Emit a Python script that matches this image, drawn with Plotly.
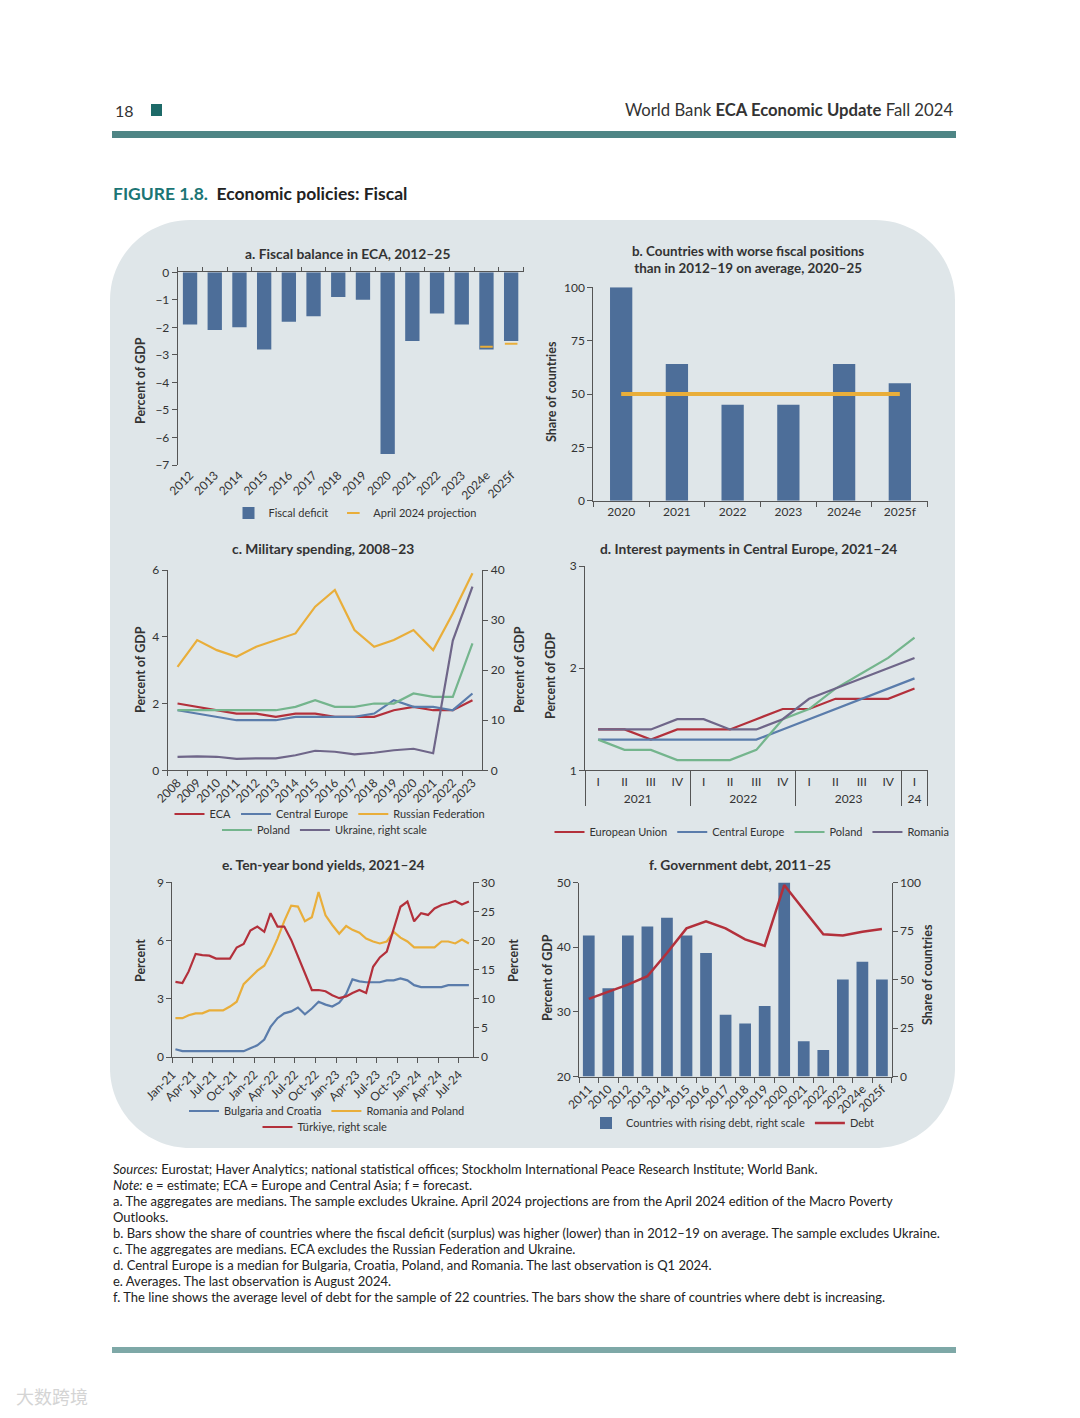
import plotly.graph_objects as go

W, H = 1080, 1418
OFF = 8  # page body margin of the browser


def X(px):
    return (px - OFF) / W


def Y(py):
    return 1 - (py - OFF) / H


# ---------------- data ----------------
# a. Fiscal balance in ECA
a_years = ["2012", "2013", "2014", "2015", "2016", "2017", "2018", "2019", "2020",
           "2021", "2022", "2023", "2024e", "2025f"]
a_deficit = [-1.9, -2.1, -2.0, -2.8, -1.8, -1.6, -0.9, -1.0, -6.6, -2.5, -1.5, -1.9, -2.8, -2.5]
a_proj_years = ["2024e", "2025f"]
a_proj = [-2.7, -2.6]

# b. Countries with worse fiscal positions
b_years = ["2020", "2021", "2022", "2023", "2024e", "2025f"]
b_share = [100, 64, 45, 45, 64, 55]
b_ref = [50, 50, 50, 50, 50, 50]

# c. Military spending
c_years = ["2008", "2009", "2010", "2011", "2012", "2013", "2014", "2015", "2016", "2017",
           "2018", "2019", "2020", "2021", "2022", "2023"]
c_eca = [2.0, 1.9, 1.8, 1.7, 1.7, 1.6, 1.7, 1.7, 1.6, 1.6, 1.6, 1.8, 1.9, 1.8, 1.8, 2.1]
c_ce = [1.8, 1.7, 1.6, 1.5, 1.5, 1.5, 1.6, 1.6, 1.6, 1.6, 1.7, 2.1, 1.9, 1.9, 1.8, 2.3]
c_rus = [3.1, 3.9, 3.6, 3.4, 3.7, 3.9, 4.1, 4.9, 5.4, 4.2, 3.7, 3.9, 4.2, 3.6, 4.7, 5.9]
c_pol = [1.8, 1.8, 1.8, 1.8, 1.8, 1.8, 1.9, 2.1, 1.9, 1.9, 2.0, 2.0, 2.3, 2.2, 2.2, 3.8]
c_ukr = [2.7, 2.8, 2.7, 2.3, 2.4, 2.4, 3.0, 3.9, 3.7, 3.2, 3.5, 4.0, 4.3, 3.4, 25.9, 36.7]

# d. Interest payments in Central Europe
d_years = ["2021", "2021", "2021", "2021", "2022", "2022", "2022", "2022",
           "2023", "2023", "2023", "2023", "24"]
d_quarters = ["I", "II", "III", "IV", "I", "II", "III", "IV", "I", "II", "III", "IV", "I"]
d_eu = [1.4, 1.4, 1.3, 1.4, 1.4, 1.4, 1.5, 1.6, 1.6, 1.7, 1.7, 1.7, 1.8]
d_ce = [1.3, 1.3, 1.3, 1.3, 1.3, 1.3, 1.3, 1.4, 1.5, 1.6, 1.7, 1.8, 1.9]
d_pol = [1.3, 1.2, 1.2, 1.1, 1.1, 1.1, 1.2, 1.5, 1.6, 1.8, 1.95, 2.1, 2.3]
d_rom = [1.4, 1.4, 1.4, 1.5, 1.5, 1.4, 1.4, 1.5, 1.7, 1.8, 1.9, 2.0, 2.1]

# e. Ten-year bond yields (monthly, Jan-21 .. Aug-24)
e_dates = ["2021-01-15", "2021-02-15", "2021-03-15", "2021-04-15", "2021-05-15", "2021-06-15",
           "2021-07-15", "2021-08-15", "2021-09-15", "2021-10-15", "2021-11-15", "2021-12-15",
           "2022-01-15", "2022-02-15", "2022-03-15", "2022-04-15", "2022-05-15", "2022-06-15",
           "2022-07-15", "2022-08-15", "2022-09-15", "2022-10-15", "2022-11-15", "2022-12-15",
           "2023-01-15", "2023-02-15", "2023-03-15", "2023-04-15", "2023-05-15", "2023-06-15",
           "2023-07-15", "2023-08-15", "2023-09-15", "2023-10-15", "2023-11-15", "2023-12-15",
           "2024-01-15", "2024-02-15", "2024-03-15", "2024-04-15", "2024-05-15", "2024-06-15",
           "2024-07-15", "2024-08-15"]
e_bgcro = [0.4, 0.3, 0.3, 0.3, 0.3, 0.3, 0.3, 0.3, 0.3, 0.3, 0.3, 0.45,
           0.6, 0.9, 1.55, 2.0, 2.25, 2.35, 2.55, 2.2, 2.5, 2.85, 2.7, 2.6,
           2.8, 3.25, 4.0, 3.9, 3.85, 3.85, 3.85, 3.95, 3.95, 4.05, 3.95, 3.7,
           3.6, 3.6, 3.6, 3.6, 3.7, 3.7, 3.7, 3.7]
e_ropol = [2.0, 2.0, 2.15, 2.25, 2.25, 2.4, 2.4, 2.4, 2.6, 2.85, 3.75, 4.1,
           4.45, 4.7, 5.3, 6.1, 7.0, 7.8, 7.75, 7.0, 7.2, 8.5, 7.3, 6.8,
           6.35, 6.75, 6.55, 6.4, 6.1, 5.95, 5.85, 5.95, 6.45, 6.15, 5.95, 5.65,
           5.65, 5.65, 5.65, 5.95, 5.95, 5.85, 6.05, 5.85]
e_tur = [12.9, 12.7, 14.7, 17.7, 17.5, 17.4, 16.9, 16.9, 16.9, 18.8, 19.4, 21.7,
         22.4, 21.5, 24.7, 22.4, 22.4, 20.1, 17.3, 14.7, 11.5, 11.5, 11.3, 10.6,
         10.1, 10.4, 11.0, 11.5, 11.0, 15.5, 17.1, 18.1, 22.1, 25.8, 26.7, 23.3,
         24.7, 24.4, 25.5, 26.1, 26.4, 26.8, 26.2, 26.7]
e_tickvals = ["2021-01-01", "2021-04-01", "2021-07-01", "2021-10-01", "2022-01-01",
              "2022-04-01", "2022-07-01", "2022-10-01", "2023-01-01", "2023-04-01",
              "2023-07-01", "2023-10-01", "2024-01-01", "2024-04-01", "2024-07-01"]
e_ticktext = ["Jan-21", "Apr-21", "Jul-21", "Oct-21", "Jan-22", "Apr-22", "Jul-22", "Oct-22",
              "Jan-23", "Apr-23", "Jul-23", "Oct-23", "Jan-24", "Apr-24", "Jul-24"]

# f. Government debt
f_years = ["2011", "2010", "2012", "2013", "2014", "2015", "2016", "2017", "2018", "2019",
           "2020", "2021", "2022", "2023", "2024e", "2025f"]
f_rising = [72.7, 45.5, 72.7, 77.3, 81.8, 72.7, 63.6, 31.8, 27.3, 36.4, 100, 18.2, 13.6, 50.0, 59.1, 50.0]
f_debt = [32.0, 33.1, 34.2, 35.5, 39.1, 42.9, 44.0, 42.9, 41.2, 40.2, 49.6, 45.8, 42.0, 41.8, 42.4, 42.8]

# ---------------- styles ----------------
BLUE_BAR = "#4d6e99"
GOLD = "#e9ae3a"
RED = "#b3303b"
CE_BLUE = "#5a7cab"
GREEN = "#74b58d"
PURPLE = "#6f6689"
AX = "#555555"
TXT = "#333333"
FONT = "Lato"
PANEL_BG = "#dfe6e9"

fig = go.Figure()

# Panel a
fig.add_trace(go.Bar(x=a_years, y=a_deficit, name="Fiscal deficit", marker_color=BLUE_BAR,
                     width=0.58, xaxis="x", yaxis="y", legend="legend"))
fig.add_trace(go.Scatter(x=a_proj_years, y=a_proj, name="April 2024 projection", mode="markers",
                         marker=dict(symbol="line-ew", size=9, color=GOLD, line=dict(color=GOLD, width=2)),
                         xaxis="x", yaxis="y", legend="legend"))
fig.add_trace(go.Scatter(x=a_years, y=a_deficit, mode="markers", marker=dict(opacity=0),
                         xaxis="x7", yaxis="y", showlegend=False, hoverinfo="skip"))

# Panel b
fig.add_trace(go.Bar(x=b_years, y=b_share, marker_color=BLUE_BAR, width=0.4,
                     xaxis="x2", yaxis="y2", showlegend=False))
fig.add_trace(go.Scatter(x=b_years, y=b_ref, mode="lines", line=dict(color=GOLD, width=4),
                         xaxis="x2", yaxis="y2", showlegend=False))

# Panel c
fig.add_trace(go.Scatter(x=c_years, y=c_eca, name="ECA", mode="lines", line=dict(color=RED, width=2.2),
                         xaxis="x3", yaxis="y3", legend="legend2"))
fig.add_trace(go.Scatter(x=c_years, y=c_ce, name="Central Europe", mode="lines",
                         line=dict(color=CE_BLUE, width=2.2), xaxis="x3", yaxis="y3", legend="legend2"))
fig.add_trace(go.Scatter(x=c_years, y=c_rus, name="Russian Federation", mode="lines",
                         line=dict(color=GOLD, width=2.2), xaxis="x3", yaxis="y3", legend="legend2"))
fig.add_trace(go.Scatter(x=c_years, y=c_pol, name="Poland", mode="lines", line=dict(color=GREEN, width=2.2),
                         xaxis="x3", yaxis="y3", legend="legend3"))
fig.add_trace(go.Scatter(x=c_years, y=c_ukr, name="Ukraine, right scale", mode="lines",
                         line=dict(color=PURPLE, width=2.2), xaxis="x3", yaxis="y4", legend="legend3"))

# Panel d
d_x = [d_years, d_quarters]
fig.add_trace(go.Scatter(x=d_x, y=d_eu, name="European Union", mode="lines", line=dict(color=RED, width=2.2),
                         xaxis="x4", yaxis="y5", legend="legend4"))
fig.add_trace(go.Scatter(x=d_x, y=d_ce, name="Central Europe", mode="lines", line=dict(color=CE_BLUE, width=2.2),
                         xaxis="x4", yaxis="y5", legend="legend4"))
fig.add_trace(go.Scatter(x=d_x, y=d_pol, name="Poland", mode="lines", line=dict(color=GREEN, width=2.2),
                         xaxis="x4", yaxis="y5", legend="legend4"))
fig.add_trace(go.Scatter(x=d_x, y=d_rom, name="Romania", mode="lines", line=dict(color=PURPLE, width=2.2),
                         xaxis="x4", yaxis="y5", legend="legend4"))

# Panel e
fig.add_trace(go.Scatter(x=e_dates, y=e_bgcro, name="Bulgaria and Croatia", mode="lines",
                         line=dict(color=CE_BLUE, width=2.2), xaxis="x5", yaxis="y6", legend="legend5"))
fig.add_trace(go.Scatter(x=e_dates, y=e_ropol, name="Romania and Poland", mode="lines",
                         line=dict(color=GOLD, width=2.2), xaxis="x5", yaxis="y6", legend="legend5"))
fig.add_trace(go.Scatter(x=e_dates, y=e_tur, name="Türkiye, right scale", mode="lines",
                         line=dict(color=RED, width=2.2), xaxis="x5", yaxis="y7", legend="legend6"))

# Panel f
fig.add_trace(go.Bar(x=f_years, y=f_rising, name="Countries with rising debt, right scale",
                     marker_color=BLUE_BAR, width=0.6, xaxis="x6", yaxis="y8", legend="legend7"))
fig.add_trace(go.Scatter(x=f_years, y=f_debt, name="Debt", mode="lines", line=dict(color=RED, width=2.5),
                         xaxis="x6", yaxis="y9", legend="legend7"))

# ---------------- axes ----------------
tickfont = dict(family=FONT, size=12, color=TXT)


def ax(**kw):
    d = dict(showgrid=False, zeroline=False, showline=True, linecolor=AX, linewidth=1,
             ticks="outside", tickcolor=AX, ticklen=5, tickwidth=1, tickfont=tickfont,
             fixedrange=True, automargin=False)
    d.update(kw)
    return d


layout_axes = dict(
    xaxis=ax(domain=[X(177.7), X(523.5)], anchor="y", type="category", range=[-0.5, 13.5],
             showline=False, ticks="", tickangle=-45),
    xaxis7=ax(overlaying="x", side="top", anchor="y", type="category", range=[-0.5, 13.5],
              tickson="boundaries", ticklen=4, showticklabels=False),
    yaxis=ax(domain=[Y(465), Y(272.3)], anchor="x", range=[-7, 0], dtick=1),

    xaxis2=ax(domain=[X(593.3), X(927.7)], anchor="y2", type="category", range=[-0.5, 5.5],
              tickson="boundaries"),
    yaxis2=ax(domain=[Y(500.7), Y(287.3)], anchor="x2", range=[0, 100], dtick=25),

    xaxis3=ax(domain=[X(167.7), X(482.3)], anchor="y3", type="category", range=[-0.5, 15.5],
              tickson="boundaries", tickangle=-45),
    yaxis3=ax(domain=[Y(770.3), Y(570)], anchor="x3", range=[0, 6], dtick=2),
    yaxis4=ax(overlaying="y3", side="right", anchor="x3", range=[0, 40], dtick=10),

    xaxis4=ax(domain=[X(585), X(927.7)], anchor="y5", type="multicategory", range=[-0.5, 12.5],
              ticks="", showdividers=True, dividercolor=AX, dividerwidth=1),
    yaxis5=ax(domain=[Y(770.3), Y(566)], anchor="x4", range=[1, 3], dtick=1),

    xaxis5=ax(domain=[X(172.3), X(472.7)], anchor="y6", type="date",
              range=["2021-01-01", "2024-09-01"], tickmode="array", tickvals=e_tickvals,
              ticktext=e_ticktext, tickangle=-45),
    yaxis6=ax(domain=[Y(1057), Y(882.3)], anchor="x5", range=[0, 9], dtick=3),
    yaxis7=ax(overlaying="y6", side="right", anchor="x5", range=[0, 30], dtick=5),

    xaxis6=ax(domain=[X(579), X(891.7)], anchor="y8", type="category", range=[-0.5, 15.5],
              tickson="boundaries", tickangle=-45),
    yaxis8=ax(domain=[Y(1076.5), Y(882.5)], anchor="x6", side="right", range=[0, 100], dtick=25),
    yaxis9=ax(overlaying="y8", side="left", anchor="x6", range=[20, 50], dtick=10),
)

# ---------------- legends ----------------
def leg(cx, cy):
    return dict(x=X(cx), y=Y(cy), xanchor="center", yanchor="middle", orientation="h",
                bgcolor="rgba(0,0,0,0)", font=dict(family=FONT, size=11, color=TXT),
                itemwidth=30, tracegroupgap=0, traceorder="normal")


legends = dict(
    legend=leg(355, 513),
    legend2=leg(330, 814),
    legend3=leg(325, 830),
    legend4=leg(752, 832),
    legend5=leg(327, 1111),
    legend6=leg(325, 1127),
    legend7=leg(733, 1123),
)

# ---------------- annotations ----------------
ann = []


def text(x, y, s, size=12, bold=False, angle=0, xanchor="center", color=TXT, family=FONT):
    ann.append(dict(x=X(x), y=Y(y), xref="paper", yref="paper", text=(f"<b>{s}</b>" if bold else s),
                    showarrow=False, xanchor=xanchor, yanchor="middle", textangle=angle,
                    font=dict(family=family, size=size, color=color)))


# header
text(113, 110, "18", size=16, xanchor="left")
text(955, 110, "World Bank <b>ECA Economic Update</b> Fall 2024", size=16.7, xanchor="right")
text(111, 193, "<span style='color:#1b7574'>FIGURE 1.8.</span>  Economic policies: Fiscal",
     size=17.5, bold=True, xanchor="left", color="#222222")

# panel titles
TS = 13.8
text(347, 253, "a. Fiscal balance in ECA, 2012–25", size=TS, bold=True)
text(748, 260, "b. Countries with worse fiscal positions<br>than in 2012–19 on average, 2020–25",
     size=13.4, bold=True)
text(323, 548, "c. Military spending, 2008–23", size=TS, bold=True)
text(748, 548, "d. Interest payments in Central Europe, 2021–24", size=TS, bold=True)
text(323, 865, "e. Ten-year bond yields, 2021–24", size=TS, bold=True)
text(740, 865, "f. Government debt, 2011–25", size=TS, bold=True)

# axis titles
AS = 12.5
text(141, 381, "Percent of GDP", size=AS, bold=True, angle=-90)
text(551, 392, "Share of countries", size=AS, bold=True, angle=-90)
text(141, 670, "Percent of GDP", size=AS, bold=True, angle=-90)
text(520, 670, "Percent of GDP", size=AS, bold=True, angle=-90)
text(551, 676, "Percent of GDP", size=AS, bold=True, angle=-90)
text(141, 961, "Percent", size=AS, bold=True, angle=-90)
text(514, 961, "Percent", size=AS, bold=True, angle=-90)
text(547, 978, "Percent of GDP", size=AS, bold=True, angle=-90)
text(927, 975, "Share of countries", size=AS, bold=True, angle=-90)

# footnotes
notes = [
    "<i>Sources:</i> Eurostat; Haver Analytics; national statistical offices; Stockholm International Peace Research Institute; World Bank.",
    "<i>Note:</i> e = estimate; ECA = Europe and Central Asia; f = forecast.",
    "a. The aggregates are medians. The sample excludes Ukraine. April 2024 projections are from the April 2024 edition of the Macro Poverty",
    "Outlooks.",
    "b. Bars show the share of countries where the fiscal deficit (surplus) was higher (lower) than in 2012–19 on average. The sample excludes Ukraine.",
    "c. The aggregates are medians. ECA excludes the Russian Federation and Ukraine.",
    "d. Central Europe is a median for Bulgaria, Croatia, Poland, and Romania. The last observation is Q1 2024.",
    "e. Averages. The last observation is August 2024.",
    "f. The line shows the average level of debt for the sample of 22 countries. The bars show the share of countries where debt is increasing.",
]
for i, s in enumerate(notes):
    text(111, 1169 + 16 * i, s, size=13.0, xanchor="left", color="#222222")

# watermark
text(14, 1396, "大数跨境", size=18, xanchor="left", color="#d4d4d4", family="Noto Sans CJK SC")

# ---------------- shapes ----------------
def P(x, y):
    return f"{X(x):.5f},{Y(y):.5f}"


x0, y0, x1, y1, r = 110, 220, 955, 1148, 80
k = 0.552 * r
path = (f"M{P(x0 + r, y0)} L{P(x1 - r, y0)} C{P(x1 - r + k, y0)} {P(x1, y0 + r - k)} {P(x1, y0 + r)} "
        f"L{P(x1, y1 - r)} C{P(x1, y1 - r + k)} {P(x1 - r + k, y1)} {P(x1 - r, y1)} "
        f"L{P(x0 + r, y1)} C{P(x0 + r - k, y1)} {P(x0, y1 - r + k)} {P(x0, y1 - r)} "
        f"L{P(x0, y0 + r)} C{P(x0, y0 + r - k)} {P(x0 + r - k, y0)} {P(x0 + r, y0)} Z")

shapes = [
    dict(type="path", xref="paper", yref="paper", path=path, fillcolor=PANEL_BG, line=dict(width=0),
         layer="below"),
    dict(type="rect", xref="paper", yref="paper", x0=X(112), x1=X(956), y0=Y(138), y1=Y(131),
         fillcolor="#4e8585", line=dict(width=0), layer="below"),
    dict(type="rect", xref="paper", yref="paper", x0=X(151), x1=X(162), y0=Y(116), y1=Y(104),
         fillcolor="#1d6a68", line=dict(width=0), layer="below"),
    dict(type="rect", xref="paper", yref="paper", x0=X(112), x1=X(956), y0=Y(1353), y1=Y(1347),
         fillcolor="#7ea8a7", line=dict(width=0), layer="below"),
]

fig.update_layout(
    template="none",
    width=W, height=H, margin=dict(l=0, r=0, t=0, b=0, autoexpand=False),
    paper_bgcolor="white", plot_bgcolor="rgba(0,0,0,0)",
    font=dict(family=FONT, size=12, color=TXT),
    bargap=0.4, showlegend=True,
    annotations=ann, shapes=shapes,
    **layout_axes, **legends,
)

fig.write_html("out.html")
